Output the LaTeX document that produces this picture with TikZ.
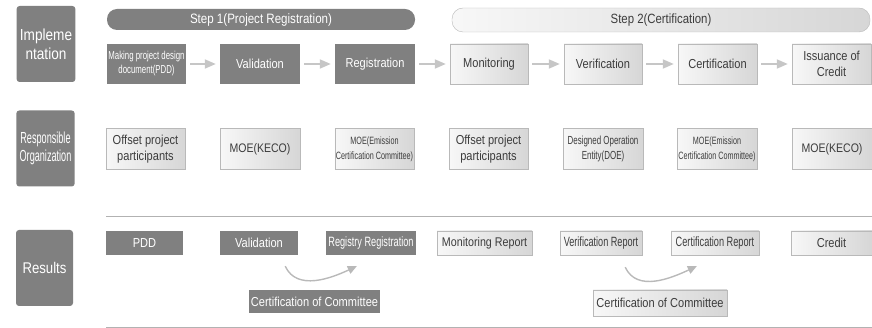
\documentclass[tikz,border=0pt]{standalone}
\usepackage{fontspec}
\setmainfont[FakeStretch=0.85]{Liberation Sans}
\newfontfamily\condfont[FakeStretch=0.68]{Liberation Sans}
\newfontfamily\narrowfont[FakeStretch=0.57]{Liberation Sans}
\usetikzlibrary{calc,arrows.meta,positioning}
\definecolor{boxdark}{RGB}{128,128,128}
\definecolor{boxline}{RGB}{185,185,185}
\definecolor{textdark}{RGB}{60,60,60}

\begin{document}
\begin{tikzpicture}[x=1pt,y=-1pt,
		dk/.style={fill=boxdark, text=white, inner sep=1pt, align=center, font=\fontsize{13}{14}\selectfont},
		lt/.style={left color=gray!6, right color=gray!32, draw=boxline, text=textdark, inner sep=1pt, align=center, font=\fontsize{13}{14}\selectfont},
		side/.style={fill=boxdark, text=white, rounded corners=3pt, minimum width=57pt, minimum height=76pt, align=center},
		flow/.style={-{Triangle[length=11pt,width=9pt]}, line width=1.8pt, draw=gray!45},
		curvearrow/.style={-{Triangle[length=9pt,width=8pt]}, line width=1.4pt, draw=gray!55}]
		
		\useasboundingbox (0,0) rectangle (872,328);
		
		% row labels
		\node (impl) at (46,44)[side, font=\fontsize{16}{19}\selectfont] {Impleme\\ntation};
		\node (resp) at (45.5,148.5)[side, font=\narrowfont\fontsize{16}{18}\selectfont] {Responsible\\Organization};
		\node (res) at (44.5,268)[side, font=\fontsize{15.5}{16}\selectfont] {Results};
		
		% steps
		\node (step1) at (261,19.5)[dk, rounded corners=10pt, minimum width=308pt, minimum height=21pt, font=\fontsize{13.6}{14}\selectfont] {Step 1(Project Registration)};
		\node (step2) at (661,20)[lt, rounded corners=11pt, minimum width=418pt, minimum height=24pt, font=\fontsize{13.4}{14}\selectfont] {Step 2(Certification)};
		
		% implementation
		\node (pdd) at (146.5,64)[dk, minimum width=79pt, minimum height=40pt, font=\condfont\fontsize{11.5}{14}\selectfont] {Making project design\\document(PDD)};
		\node (val) at (260,64)[dk, minimum width=80pt, minimum height=40pt] {Validation};
		\node (reg) at (375,64)[dk, minimum width=80pt, minimum height=40pt] {Registration};
		\node (mon) at (489,64)[lt, minimum width=78pt, minimum height=40pt] {Monitoring};
		\node (ver) at (603,64)[lt, minimum width=78pt, minimum height=40pt] {Verification};
		\node (cer) at (717.5,64)[lt, minimum width=79pt, minimum height=40pt] {Certification};
		\node (iss) at (831.5,64)[lt, minimum width=79pt, minimum height=40pt, font=\fontsize{13}{16}\selectfont] {Issuance of\\Credit};
		
		\foreach \a/\b in {pdd/val,val/reg,reg/mon,mon/ver,ver/cer,cer/iss}
			\draw[flow] ([xshift=4pt]\a.east) -- ([xshift=-4pt]\b.west);
		
		% responsible organization
		\node (org1) at (145.5,149)[lt, minimum width=79pt, minimum height=41pt, font=\fontsize{13}{16}\selectfont] {Offset project\\participants};
		\node (org2) at (260,149)[lt, minimum width=80pt, minimum height=41pt, font=\fontsize{12.4}{14}\selectfont] {MOE(KECO)};
		\node (org3) at (374.5,149)[lt, minimum width=79pt, minimum height=41pt, font=\condfont\fontsize{10.6}{15}\selectfont] {MOE(Emission\\Certification Committee)};
		\node (org4) at (488.5,149)[lt, minimum width=79pt, minimum height=41pt, font=\fontsize{13}{16}\selectfont] {Offset project\\participants};
		\node (org5) at (603,149)[lt, minimum width=80pt, minimum height=41pt, font=\condfont\fontsize{11.7}{15}\selectfont] {Designed Operation\\Entity(DOE)};
		\node (org6) at (717,149)[lt, minimum width=80pt, minimum height=41pt, font=\condfont\fontsize{10.6}{15}\selectfont] {MOE(Emission\\Certification Committee)};
		\node (org7) at (832,149)[lt, minimum width=80pt, minimum height=41pt, font=\fontsize{12.4}{14}\selectfont] {MOE(KECO)};
		
		\draw[gray!60, line width=0.8pt] (106,216) -- (872,216);
		\draw[gray!60, line width=0.8pt] (106,327) -- (872,327);
		
		% results
		\node (r1) at (144.5,243)[dk, minimum width=77pt, minimum height=24pt] {PDD};
		\node (r2) at (259,243)[dk, minimum width=78pt, minimum height=24pt] {Validation};
		\node (r3) at (371,243)[dk, minimum width=90pt, minimum height=24pt, font=\condfont\fontsize{13.5}{14}\selectfont] {Registry Registration};
		\node (r4) at (484.5,243)[lt, minimum width=95pt, minimum height=24pt, font=\fontsize{12.6}{14}\selectfont] {Monitoring Report};
		\node (r5) at (601,243)[lt, minimum width=82pt, minimum height=24pt, font=\condfont\fontsize{13.4}{14}\selectfont] {Verification Report};
		\node (r6) at (715,243)[lt, minimum width=88pt, minimum height=24pt, font=\condfont\fontsize{13.5}{14}\selectfont] {Certification Report};
		\node (r7) at (831.5,243)[lt, minimum width=81pt, minimum height=24pt] {Credit};
		
		\node (com1) at (314.5,301.5)[dk, minimum width=131pt, minimum height=23pt] {Certification of Committee};
		\node (com2) at (660,303)[lt, minimum width=134pt, minimum height=26pt] {Certification of Committee};
		
		\draw[curvearrow] ($(r2.south east)+(-13,11)$) to[out=-65,in=-155] ($(r3.south west)+(31,11)$);
		\draw[curvearrow] ($(r5.south east)+(-17,12)$) to[out=-65,in=-155] ($(r6.south west)+(26,11)$);
		
	\end{tikzpicture}
\end{document}
